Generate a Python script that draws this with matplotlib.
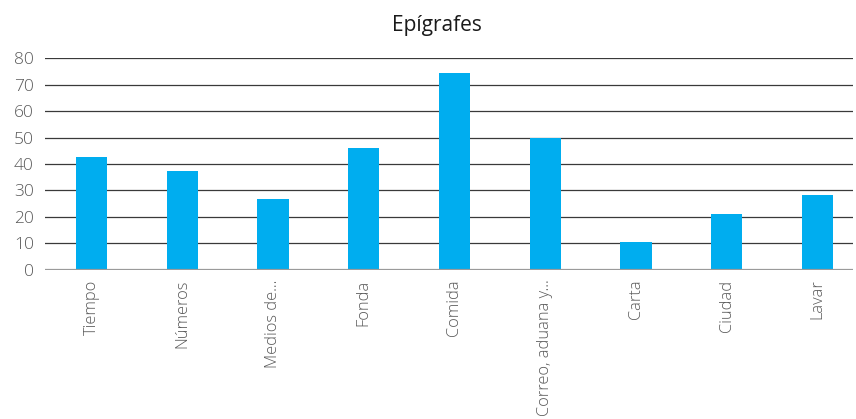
import matplotlib.pyplot as plt

categorias = ["Tiempo", "Números", "Medios de...", "Fonda", "Comida",
              "Correo, aduana y...", "Carta", "Ciudad", "Lavar"]
valores = [42.7, 37.4, 26.8, 46.1, 74.5, 50.0, 10.5, 21.1, 28.3]
yticks = [0, 10, 20, 30, 40, 50, 60, 70, 80]

plt.rcParams['font.family'] = ['Open Sans', 'DejaVu Sans']

fig = plt.figure(figsize=(8.56, 4.19), dpi=100)
ax = fig.add_axes([45 / 856, 1 - 269.7 / 419, 808 / 856, (269.7 - 58.3) / 419])

x = range(len(categorias))
ax.bar(x, valores, width=0.345, color="#00adef", zorder=3)

# category slots are ~90.75 px wide, first one centred at px 91.5
ax.set_xlim(-0.512, 8.391)
ax.set_ylim(0, 80)
ax.set_yticks(yticks)
ax.set_yticklabels([str(v) for v in yticks], fontsize=12.5, color="#595959",
                   fontweight="light")
ax.set_xticks(list(x))
ax.set_xticklabels(categorias, rotation=90, fontsize=11.8, color="#595959",
                   va="top", fontweight="light")
ax.tick_params(axis="both", length=0)
ax.tick_params(axis="x", pad=7)
ax.tick_params(axis="y", pad=8)

for v in yticks[1:]:
    ax.axhline(v, color="#3a3a3a", lw=0.9, zorder=1)
ax.axhline(0, color="#9a9a9a", lw=1.6, zorder=4)

for s in ax.spines.values():
    s.set_visible(False)

fig.text(437 / 856, 1 - 25 / 419, "Epígrafes", ha="center", va="center",
         fontsize=15, color="#1a1a1a")

fig.savefig("out.png", dpi=100)
